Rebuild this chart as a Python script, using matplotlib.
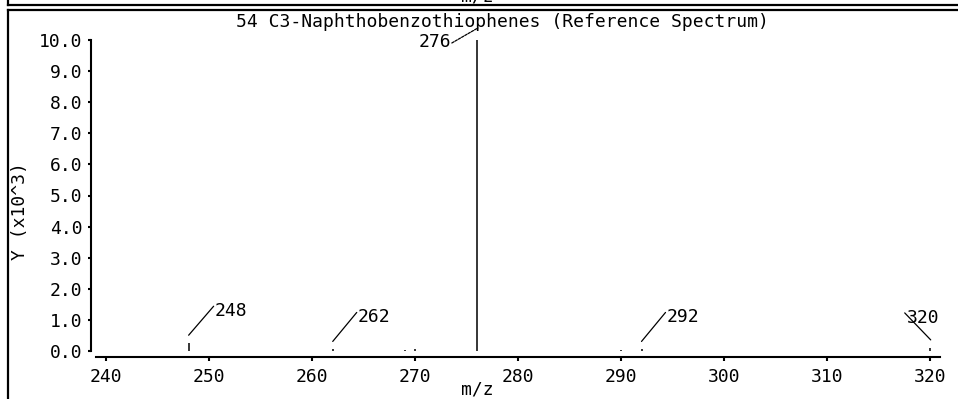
import matplotlib
matplotlib.use("Agg")
import matplotlib.pyplot as plt
from matplotlib.lines import Line2D
from matplotlib.transforms import offset_copy

# ---- data ----
title = "54 C3-Naphthobenzothiophenes (Reference Spectrum)"
mz = [248, 262, 269, 270, 276, 290, 292, 320]
intensity = [0.25, 0.05, 0.04, 0.06, 10.0, 0.03, 0.05, 0.10]   # x10^3
labeled = [248, 262, 276, 292, 320]
xticks = [240, 250, 260, 270, 280, 290, 300, 310, 320]
yticks = [0, 1, 2, 3, 4, 5, 6, 7, 8, 9, 10]

W, H = 958, 399
PT = 0.72  # points per pixel at dpi 100
FONT = ["DejaVu Sans Mono"]
FS = 13

plt.rcParams['font.family'] = FONT
fig = plt.figure(figsize=(W / 100, H / 100), dpi=100)
fig.patch.set_facecolor("white")

ax = fig.add_axes([96 / W, (H - 351) / H, (940 - 96) / W, (351 - 40) / H])
ax.set_xlim(239, 321)
ax.set_ylim(0, 10)

# peaks
ax.vlines(mz, 0, intensity, colors="black", linewidth=1.1)

# spines
for s in ("top", "right"):
    ax.spines[s].set_visible(False)
ax.spines["left"].set_position(("outward", 5 * PT))
ax.spines["left"].set_bounds(0, 10)
ax.spines["bottom"].set_position(("outward", 6 * PT))
ax.spines["left"].set_linewidth(1.5)
ax.spines["bottom"].set_linewidth(1.5)

ax.set_xticks(xticks)
ax.set_xticklabels([str(t) for t in xticks])
ax.set_yticks(yticks)
ax.set_yticklabels([f"{t:.1f}" for t in yticks])
ax.tick_params(axis="x", direction="out", length=4 * PT, width=1.5, pad=5, labelsize=FS)
ax.tick_params(axis="y", direction="out", length=3 * PT, width=1.5, pad=4, labelsize=FS)

# peak labels with leader lines (offsets in pixels relative to the peak top)
style = {
    248: dict(a=(0, 8), b=(25, 37), t=(26, 32), ha="left", ls="-"),
    262: dict(a=(0, 8), b=(24, 37), t=(25, 32), ha="left", ls="-"),
    292: dict(a=(0, 8), b=(24, 37), t=(25, 32), ha="left", ls="-"),
    320: dict(a=(1, 8), b=(-25, 35), t=(-23, 30), ha="left", ls="-"),
    276: dict(a=(-25, -3), b=(1, 12), t=(-26, -2), ha="right", ls=(0, (2, 1))),
}


def off(dx, dy):
    return offset_copy(ax.transData, fig=fig, x=dx * PT, y=dy * PT, units="points")


for m in labeled:
    v = intensity[mz.index(m)]
    st = style[m]
    ax.annotate("", xy=(m, v), xycoords=off(*st["b"]),
                xytext=(m, v), textcoords=off(*st["a"]), annotation_clip=False,
                arrowprops=dict(arrowstyle="-", color="black", lw=0.9,
                                linestyle=st["ls"], shrinkA=0, shrinkB=0))
    ax.text(m, v, str(m), transform=off(*st["t"]), ha=st["ha"], va="center",
            fontsize=FS, clip_on=False)

# texts
fig.text(502 / W, 1 - 22 / H, title, ha="center", va="center", fontsize=FS)
fig.text(20 / W, 1 - 211 / H, "Y (x10^3)", rotation=90, ha="center", va="center", fontsize=FS)
fig.text(477 / W, 1 - 389 / H, "m/z", ha="center", va="center", fontsize=FS)
fig.text(477 / W, 1 - 1.5 / H, "m/z", ha="center", va="baseline", fontsize=FS)

# panel borders
def fline(x0, y0, x1, y1, lw=1.6):
    fig.add_artist(Line2D([x0 / W, x1 / W], [1 - y0 / H, 1 - y1 / H],
                          color="black", linewidth=lw, transform=fig.transFigure))

fline(8, 10, 8, H + 2)
fline(8, 10, W + 2, 10)
fline(8, -2, 8, 4.5)
fline(8, 4.5, W + 2, 4.5)

fig.savefig("out.png", dpi=100)
